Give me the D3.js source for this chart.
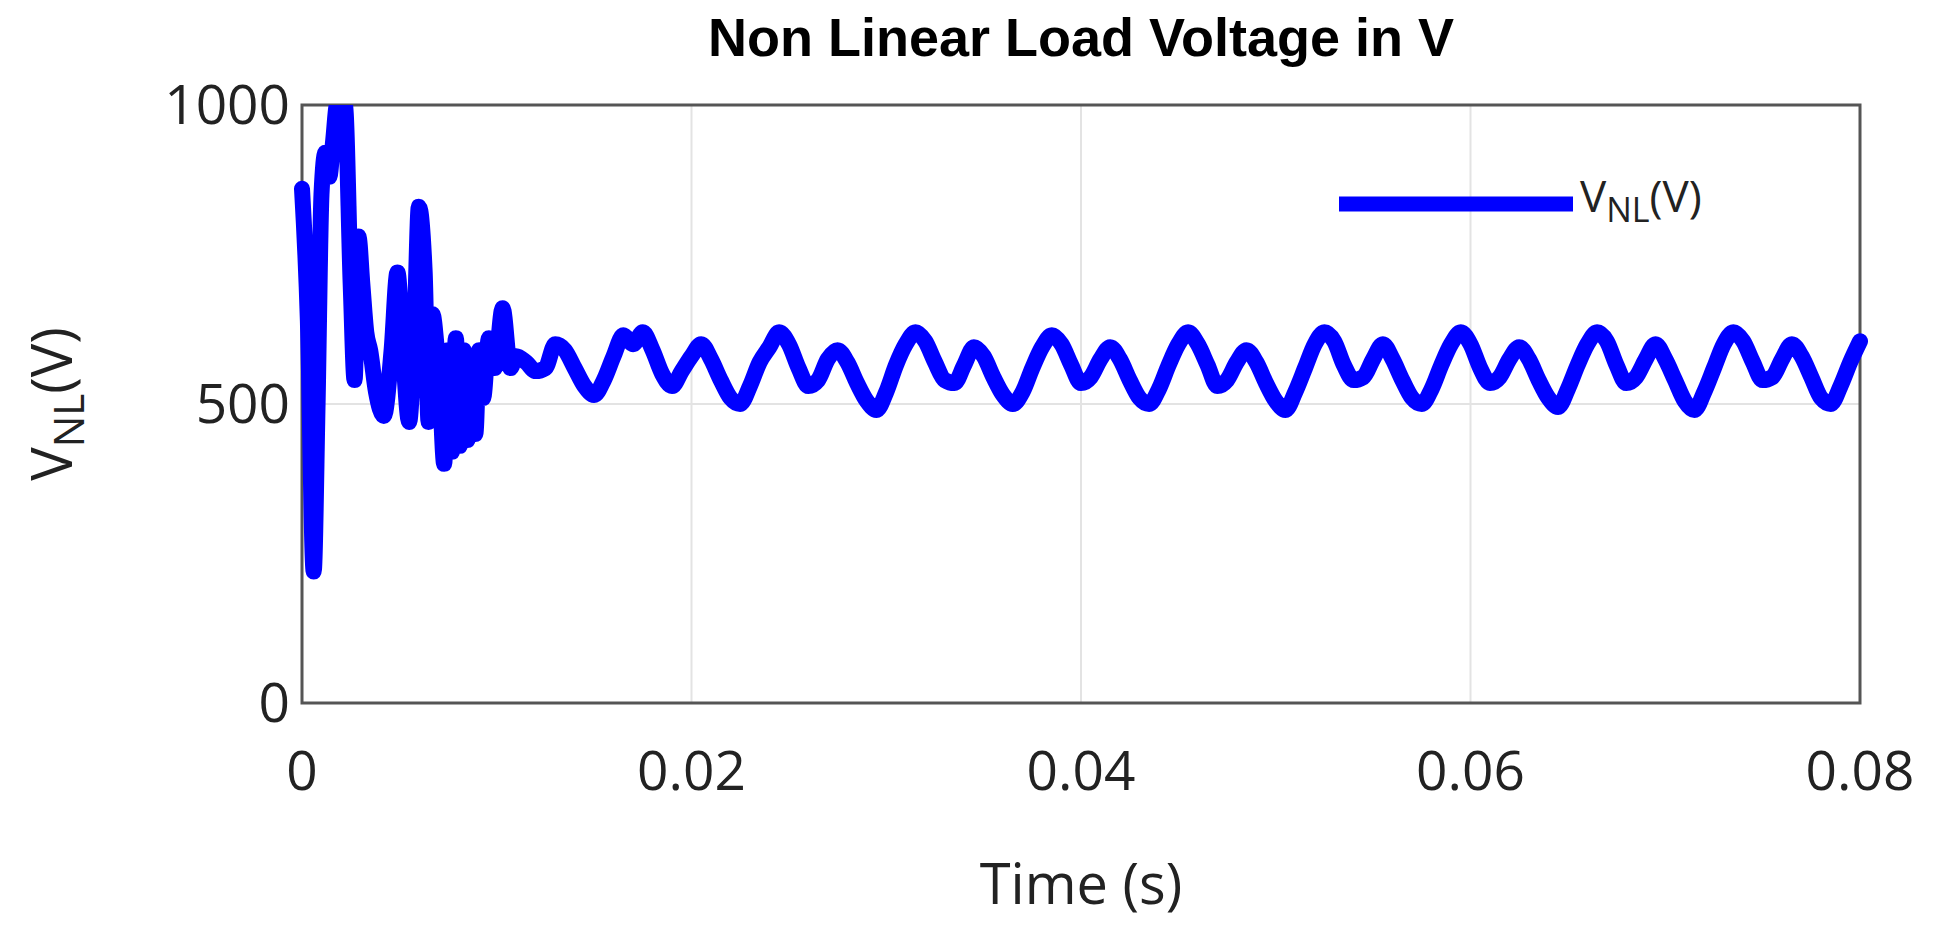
<!DOCTYPE html><html><head><meta charset="utf-8"><script src="https://cdn.jsdelivr.net/npm/d3@7"></script>
<style>body{margin:0;background:#fff}</style></head><body><svg id="c" width="1935" height="949"></svg>
<script>
const transientT=[0,0.3,0.6,0.8,1.0,1.2,1.4,1.6,1.8,2.2,2.5,2.7,2.9,3.1,3.3,3.5,3.8,4.2,4.6,4.9,5.2,5.5,5.8,6.0,6.3,6.5,6.7,6.9,7.1,7.3,7.5,7.7,7.9,8.1,8.3,8.5,8.7,8.9,9.1,9.3,9.6,9.9,10.3,10.7];
const transientV=[860,640,220,500,850,920,880,940,1000,1000,700,540,780,700,620,590,520,480,590,720,580,470,650,830,720,470,650,600,510,400,590,420,610,430,590,440,580,450,590,510,610,560,660,560];
const steadyStart=11.0, steadyStep=0.5;
const steadyV=[580,570,555,560,600,590,560,530,515,540,580,615,600,620,590,550,530,555,580,600,575,540,510,500,530,570,595,620,600,560,530,540,575,590,570,535,505,490,520,565,600,620,605,570,540,535,565,595,580,545,515,500,520,560,595,615,600,565,535,545,575,595,575,540,510,500,525,565,600,620,600,565,530,540,570,590,570,535,505,490,520,560,600,620,605,565,540,545,575,600,575,540,510,500,525,565,600,620,600,560,535,545,575,595,575,540,510,495,525,565,600,620,605,565,535,545,575,600,575,540,505,490,520,560,600,620,605,570,540,545,575,600,580,545,510,500,530,570,605,610,590,555,545,575,560];
const xTicks=[0,0.02,0.04,0.06,0.08], yTicks=[0,500,1000];
const data=transientT.map((t,i)=>[t/1000,transientV[i]]);
steadyV.forEach((v,i)=>{const t=(steadyStart+i*steadyStep)/1000; if(t<=0.08) data.push([t,v]);});
const svg=d3.select('#c');
const L=302,R=1860,T=105,B=703;
const x=d3.scaleLinear().domain([0,0.08]).range([L,R]);
const y=d3.scaleLinear().domain([0,1000]).range([B,T]);
const g=svg.append('g');
g.selectAll('.gx').data(xTicks.slice(1,-1)).join('line').attr('x1',d=>x(d)).attr('x2',d=>x(d)).attr('y1',T).attr('y2',B).attr('stroke','#e3e3e3').attr('stroke-width',2);
g.selectAll('.gy').data([500]).join('line').attr('x1',L).attr('x2',R).attr('y1',d=>y(d)).attr('y2',d=>y(d)).attr('stroke','#e3e3e3').attr('stroke-width',2);
svg.append('clipPath').attr('id','cp').append('rect').attr('x',L-8).attr('y',T).attr('width',R-L+16).attr('height',B-T);
svg.append('rect').attr('x',L).attr('y',T).attr('width',R-L).attr('height',B-T).attr('fill','none').attr('stroke','#555').attr('stroke-width',3);
svg.append('path').datum(data).attr('clip-path','url(#cp)').attr('d',d3.line().x(d=>x(d[0])).y(d=>y(d[1])).curve(d3.curveMonotoneX)).attr('fill','none').attr('stroke','#0000ff').attr('stroke-width',16).attr('stroke-linejoin','round').attr('stroke-linecap','round');
const font='"Open Sans", sans-serif';
svg.selectAll('.xt').data(xTicks).join('text').attr('x',d=>x(d)).attr('y',790).attr('text-anchor','middle').attr('font-family',font).attr('font-size',55).attr('fill','#222').text(d=>d===0?'0':d.toFixed(2));
svg.selectAll('.yt').data(yTicks).join('text').attr('x',L-12).attr('y',d=>y(d)+19).attr('text-anchor','end').attr('font-family',font).attr('font-size',55).attr('fill','#222').text(d=>d);
svg.append('text').attr('x',(L+R)/2).attr('y',56).attr('text-anchor','middle').attr('font-family','"Liberation Sans", Arial, sans-serif').attr('font-weight','bold').attr('font-size',54).text('Non Linear Load Voltage in V');
svg.append('text').attr('x',(L+R)/2).attr('y',904).attr('text-anchor','middle').attr('font-family',font).attr('font-size',56).attr('fill','#222').text('Time (s)');
const yl=svg.append('text').attr('transform','translate(72,404) rotate(-90)').attr('text-anchor','middle').attr('font-family',font).attr('font-size',56).attr('fill','#222');
yl.append('tspan').text('V');yl.append('tspan').attr('font-size',42).attr('dy',12).text('NL');yl.append('tspan').attr('dy',-12).text('(V)');
svg.append('line').attr('x1',1339).attr('x2',1573).attr('y1',204).attr('y2',204).attr('stroke','#0000ff').attr('stroke-width',15);
const lt=svg.append('text').attr('x',1580).attr('y',212).attr('font-family',font).attr('font-size',44).attr('fill','#222');
lt.append('tspan').text('V');lt.append('tspan').attr('font-size',34).attr('dy',10).text('NL');lt.append('tspan').attr('dy',-10).text('(V)');
</script></body></html>
